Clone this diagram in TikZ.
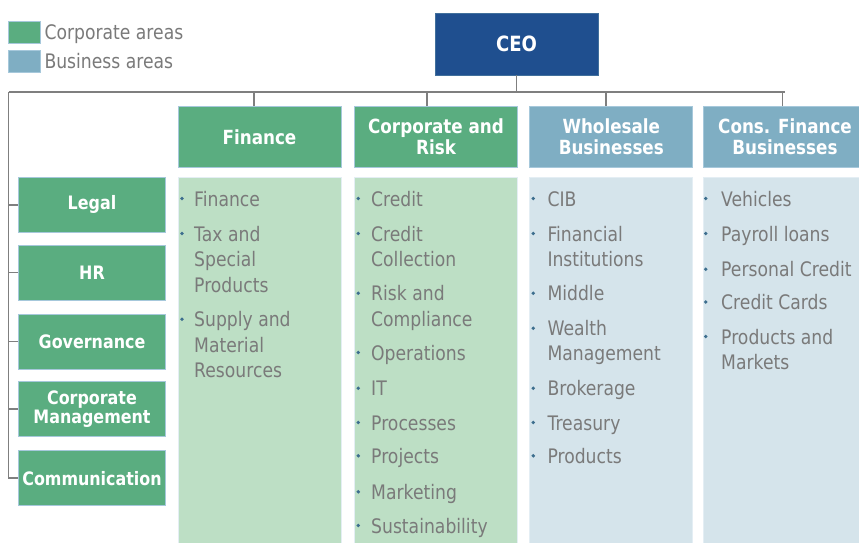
\documentclass[tikz,border=0pt]{standalone}
\usepackage{fontspec}
\setmainfont{DejaVu Sans}[FakeStretch=0.86]
\definecolor{corpgreen}{HTML}{5AAD80}
\definecolor{busblue}{HTML}{7FAEC3}
\definecolor{ceoblue}{HTML}{1F4F8F}
\definecolor{ceoedge}{HTML}{41709C}
\definecolor{panelgreen}{HTML}{BDDFC5}
\definecolor{panelblue}{HTML}{D5E4EB}
\definecolor{edgeblue}{HTML}{A6C8DB}
\definecolor{linegrey}{HTML}{7F7F7F}
\definecolor{textgrey}{HTML}{7A7A7A}
\definecolor{bulletcol}{HTML}{3D6E8E}
\newcommand\panelitems[4]{%
  \foreach \yy/\itxt/\bb [count=\k] in {#3} {
    \node[itemtext, anchor=base west] (#4-\k) at (#2,\yy) {\itxt};
    \ifnum\bb=1 \fill[bulletcol] (#1,\yy-7.5) circle[radius=1.9pt]; \fi
  }}
\begin{document}
\begin{tikzpicture}[x=1pt,y=-1pt,
  boxbase/.style={rectangle, inner sep=0pt, draw=edgeblue, line width=0.8pt, text=white, align=center},
  headG/.style={boxbase, fill=corpgreen, minimum width=163pt, minimum height=61pt, font=\bfseries\fontsize{19.5}{21}\selectfont},
  headB/.style={headG, fill=busblue},
  sideG/.style={boxbase, fill=corpgreen, minimum width=147.4pt, minimum height=55pt, font=\bfseries\fontsize{18.5}{18.5}\selectfont},
  ceobox/.style={rectangle, inner sep=0pt, fill=ceoblue, draw=ceoedge, line width=0.8pt, text=white, minimum width=163pt, minimum height=62pt, font=\bfseries\fontsize{21}{21}\selectfont},
  panelG/.style={rectangle, inner sep=0pt, fill=panelgreen, draw=white!70!edgeblue, line width=0.6pt, minimum width=163pt, minimum height=372pt},
  panelB/.style={panelG, fill=panelblue},
  itemtext/.style={inner sep=0pt, text=textgrey, font=\fontsize{20}{26}\selectfont},
  legsq/.style={rectangle, inner sep=0pt, draw=edgeblue, line width=0.8pt, minimum width=31.6pt, minimum height=22pt},
  legtext/.style={inner sep=0pt, text=textgrey, font=\fontsize{20}{24}\selectfont, anchor=base west},
  conn/.style={draw=linegrey, line width=1.5pt}
]
\useasboundingbox (0,0) rectangle (859,542);
\fill[white] (0,0) rectangle (859,542);

% legend
\node[legsq, fill=corpgreen] (lg) at (24.5,32.2) {};
\node[legsq, fill=busblue] (lb) at (24.5,61) {};
\node[legtext] (lgt) at (44.3,39.5) {Corporate areas};
\node[legtext] (lbt) at (44.3,68.3) {Business areas};

% CEO and top row
\node[ceobox] (ceo) at (516.5,44) {CEO};
\node[headG] (fin) at (259.5,137) {Finance};
\node[headG] (cr) at (436,137) {Corporate and\\Risk};
\node[headB] (whs) at (611.3,137) {Wholesale\\Businesses};
\node[headB] (cons) at (785,137) {Cons. Finance\\Businesses};

% left column
\node[sideG] (legal) at (92,204.8) {Legal};
\node[sideG] (hr) at (92,272.5) {HR};
\node[sideG] (gov) at (92,341.7) {Governance};
\node[sideG] (cm) at (92,409.2) {Corporate\\Management};
\node[sideG] (comm) at (92,478.2) {Communication};

% panels
\node[panelG, anchor=north west] (pfin) at (178,177) {};
\node[panelG, anchor=north west] (pcr) at (354.3,177) {};
\node[panelB, anchor=north west] (pwhs) at (529.3,177) {};
\node[panelB, anchor=north west] (pcons) at (702.7,177) {};

% connectors
\coordinate (bus) at (8.5,92);
\draw[conn] (ceo.south) -- (ceo.south |- bus);
\draw[conn] (bus) -- (bus -| cons.north);
\draw[conn] ([xshift=-5.5pt]fin.north) -- ([xshift=-5.5pt]fin.north |- bus);
\draw[conn] ([xshift=-9pt]cr.north) -- ([xshift=-9pt]cr.north |- bus);
\draw[conn] ([xshift=-5.5pt]whs.north) -- ([xshift=-5.5pt]whs.north |- bus);
\draw[conn] ([xshift=-2.5pt]cons.north) -- ([xshift=-2.5pt]cons.north |- bus);
\draw[conn] (bus) |- (comm.west);
\foreach \b in {legal,hr,gov,cm} \draw[conn] (\b.west) -- (\b.west -| bus);

% items
\panelitems{182}{194}{206/Finance/1, 241/Tax and/1, 266.7/Special/0, 292.7/Products/0, 326.7/Supply and/1, 352/Material/0, 377.5/Resources/0}{tf}
\panelitems{358.3}{371}{206/Credit/1, 241/Credit/1, 266.7/Collection/0, 300.7/Risk and/1, 326.7/Compliance/0, 360/Operations/1, 395.7/IT/1, 430/Processes/1, 463.3/Projects/1, 499.3/Marketing/1, 533/Sustainability/1}{tc}
\panelitems{533.3}{547.3}{206/CIB/1, 241/Financial/1, 266.7/Institutions/0, 300.7/Middle/1, 335.7/Wealth/1, 360.7/Management/0, 395.7/Brokerage/1, 430/Treasury/1, 463.3/Products/1}{tw}
\panelitems{705.7}{721}{206/Vehicles/1, 241/Payroll loans/1, 276.7/Personal Credit/1, 309.5/Credit Cards/1, 344/Products and/1, 369.3/Markets/0}{tn}
\end{tikzpicture}
\end{document}
